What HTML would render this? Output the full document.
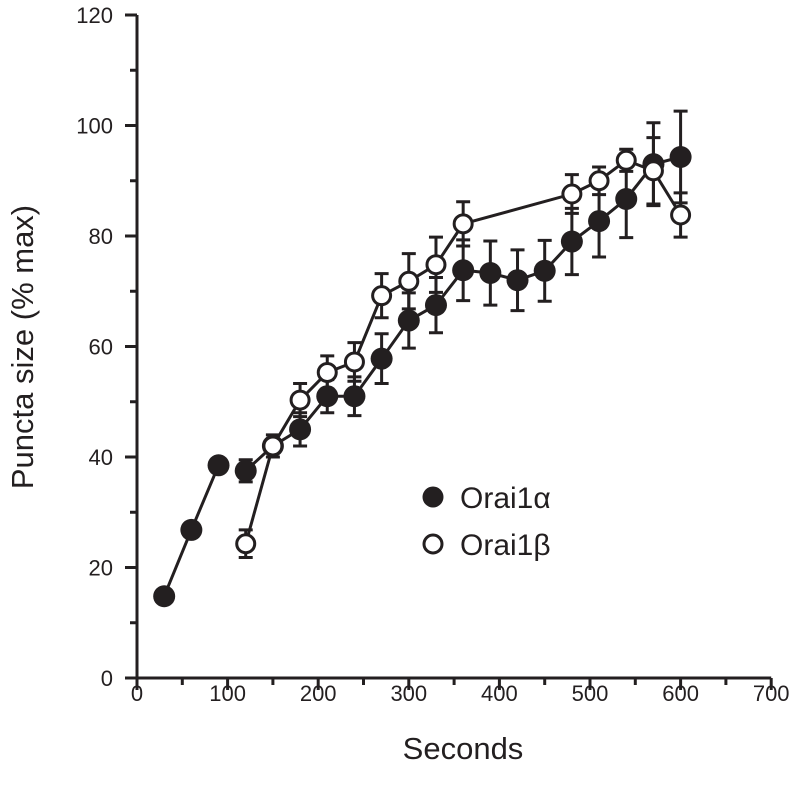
<!DOCTYPE html>
<html><head><meta charset="utf-8"><style>
body{margin:0;background:#fff}
svg text{font-family:"Liberation Sans",Arial,sans-serif;fill:#231f20}
</style></head><body>
<svg id="chart" width="800" height="790" xmlns="http://www.w3.org/2000/svg">
<g id="axes"></g><g id="lines"></g><g id="errs"></g><g id="marks"></g>
<text x="463" y="759" font-size="31" text-anchor="middle">Seconds</text>
<text transform="translate(33,347) rotate(-90)" font-size="31" text-anchor="middle">Puncta size (% max)</text>
<g>
<circle cx="433" cy="497" r="10.5" fill="#231f20"/>
<text x="460" y="508" font-size="30">Orai1α</text>
<circle cx="433" cy="544" r="9" fill="#fff" stroke="#231f20" stroke-width="3"/>
<text x="460" y="555" font-size="30">Orai1β</text>
</g>
</svg>
<script>
const xTicks=[0,100,200,300,400,500,600,700];
const yTicks=[0,20,40,60,80,100,120];
const alphaX=[30,60,90,120,150,180,210,240,270,300,330,360,390,420,450,480,510,540,570,600];
const alphaY=[14.8,26.8,38.5,37.5,42,45,51,51,57.8,64.7,67.5,73.8,73.3,72,73.7,79,82.7,86.7,93,94.3];
const alphaE=[0,0,0,2,0,3,3,3.5,4.5,5,5,5.5,5.8,5.5,5.5,6,6.5,7,7.5,8.3];
const alphaSegs=[[0,3],[3,20]];
const betaX=[120,150,180,210,240,270,300,330,360,480,510,540,570,600];
const betaY=[24.3,42,50.3,55.3,57.2,69.2,71.8,74.8,82.2,87.6,90,93.7,91.8,83.8];
const betaE=[2.5,2,3,3,3.5,4,5,5,4,3.5,2.5,2,6,4];
const NS="http://www.w3.org/2000/svg";
const X=v=>137+v*0.906, Y=v=>678-v*5.525;
function mk(t,a,p){const e=document.createElementNS(NS,t);for(const k in a)e.setAttribute(k,a[k]);document.getElementById(p).appendChild(e);return e;}
const C="#231f20";
let e=mk('line',{x1:126,y1:678,x2:X(700),y2:678,stroke:C,'stroke-width':3},'axes');

e=mk('line',{x1:137,y1:680,x2:137,y2:Y(120),stroke:C,'stroke-width':3},'axes');

for(let v=0;v<=700;v+=50){const maj=v%100==0;e=mk('line',{x1:X(v),y1:678,x2:X(v),y2:678+(maj?12:7),stroke:C,'stroke-width':3},'axes');
}
for(let v=0;v<=120;v+=10){const maj=v%20==0;e=mk('line',{x1:137,y1:Y(v),x2:137-(maj?12:7),y2:Y(v),stroke:C,'stroke-width':3},'axes');
}
xTicks.forEach(v=>{e=mk('text',{x:X(v),y:701,'font-size':22,'text-anchor':'middle'},'axes');e.textContent=v;
});
yTicks.forEach(v=>{e=mk('text',{x:113,y:Y(v)+8,'font-size':22,'text-anchor':'end'},'axes');e.textContent=v;
});
alphaSegs.forEach(s=>{const pts=[];for(let i=s[0];i<s[1];i++)pts.push(X(alphaX[i])+','+Y(alphaY[i]));
e=mk('polyline',{points:pts.join(' '),fill:'none',stroke:C,'stroke-width':3},'lines');
});
e=mk('polyline',{points:betaX.map((x,i)=>X(x)+','+Y(betaY[i])).join(' '),fill:'none',stroke:C,'stroke-width':3},'lines');

function err(xs,ys,es,nm){xs.forEach((x,i)=>{if(!es[i])return;const cx=X(x),t=Y(ys[i]+es[i]),b=Y(ys[i]-es[i]);
e=mk('path',{d:`M${cx},${t}V${b}M${cx-7},${t}H${cx+7}M${cx-7},${b}H${cx+7}`,stroke:C,'stroke-width':3,fill:'none'},'errs');
});}
err(alphaX,alphaY,alphaE,'alpha-error-bar');err(betaX,betaY,betaE,'beta-error-bar');
alphaX.forEach((x,i)=>{e=mk('circle',{cx:X(x),cy:Y(alphaY[i]),r:11,fill:C},'marks');
});
betaX.forEach((x,i)=>{e=mk('circle',{cx:X(x),cy:Y(betaY[i]),r:9,fill:'#fff',stroke:C,'stroke-width':3},'marks');
});
</script>
</body></html>
